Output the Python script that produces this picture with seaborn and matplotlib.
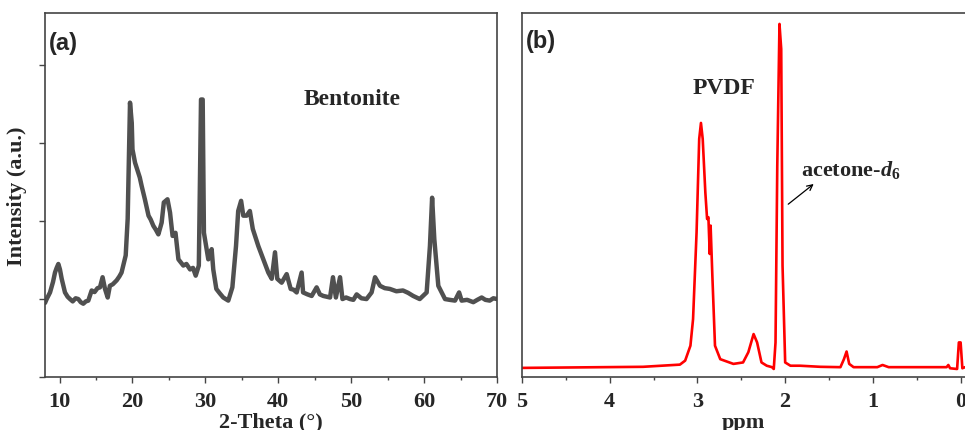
import matplotlib
matplotlib.use("Agg")
import matplotlib.pyplot as plt
import seaborn as sns
import pandas as pd
from matplotlib.ticker import MultipleLocator

# ---- Panel (a): XRD of bentonite ----
xrd_two_theta = [8.0, 8.23, 8.69, 9.1, 9.37, 9.6, 9.83, 10.05, 10.29, 10.74, 11.1, 11.43, 11.8, 12.2, 12.57,
                 12.9, 13.25, 13.6, 13.94, 14.4, 14.8, 15.2, 15.54, 15.9, 16.23, 16.6, 16.9, 17.3, 17.83,
                 18.2, 18.5, 19.07, 19.34, 19.5, 19.66, 19.9, 20.0, 20.35, 20.8, 21.0, 21.26, 21.7, 22.2,
                 22.5, 22.86, 23.2, 23.55, 24.0, 24.3, 24.8, 25.15, 25.5, 25.9, 26.3, 26.97, 27.4, 27.9,
                 28.3, 28.67, 29.1, 29.4, 29.63, 29.8, 30.4, 30.86, 31.08, 31.5, 32.0, 32.45, 33.14, 33.7,
                 34.2, 34.5, 34.9, 35.2, 35.66, 36.1, 36.5, 37.26, 37.95, 38.63, 39.1, 39.55, 39.86, 40.46,
                 41.15, 41.7, 42.1, 42.52, 43.2, 43.4, 44.0, 44.58, 45.26, 45.7, 46.17, 47.1, 47.5, 47.9,
                 48.47, 48.8, 49.3, 49.84, 50.3, 50.75, 51.4, 52.1, 52.8, 53.27, 53.95, 54.6, 55.3, 56.2,
                 57.1, 57.8, 58.5, 59.4, 60.35, 60.8, 61.1, 61.4, 61.95, 62.87, 63.5, 64.24, 64.8, 65.15,
                 65.9, 66.75, 67.3, 67.9, 68.4, 69.0, 69.5, 70.0]
xrd_intensity = [0.95, 1.00, 1.085, 1.22, 1.34, 1.40, 1.45, 1.38, 1.26, 1.085, 1.03, 1.00, 0.97, 1.01, 1.00,
                 0.96, 0.94, 0.97, 0.98, 1.11, 1.09, 1.14, 1.15, 1.28, 1.13, 1.02, 1.17, 1.19, 1.24,
                 1.29, 1.34, 1.56, 2.03, 2.80, 3.52, 3.26, 2.92, 2.75, 2.62, 2.56, 2.45, 2.28, 2.07,
                 2.02, 1.94, 1.89, 1.83, 1.98, 2.24, 2.28, 2.11, 1.81, 1.85, 1.51, 1.43, 1.45, 1.38,
                 1.40, 1.30, 1.43, 3.56, 3.56, 1.85, 1.51, 1.64, 1.38, 1.13, 1.07, 1.02, 0.98, 1.15,
                 1.68, 2.13, 2.26, 2.07, 2.07, 2.13, 1.90, 1.68, 1.51, 1.34, 1.26, 1.60, 1.26, 1.21,
                 1.32, 1.13, 1.12, 1.085, 1.34, 1.085, 1.06, 1.04, 1.15, 1.06, 1.04, 1.02, 1.28, 1.02,
                 1.28, 1.00, 1.02, 1.00, 0.99, 1.06, 1.01, 1.00, 1.085, 1.28, 1.17, 1.14, 1.13, 1.10,
                 1.11, 1.08, 1.04, 1.00, 1.085, 1.68, 2.30, 1.77, 1.17, 1.00, 0.99, 0.98, 1.085, 0.98,
                 0.99, 0.96, 0.99, 1.02, 0.99, 0.98, 1.01, 1.00]
xrd_xticks = [10, 20, 30, 40, 50, 60, 70]

# ---- Panel (b): 1H NMR of PVDF ----
nmr_ppm = [5.0, 3.62, 3.2, 3.14, 3.08, 3.05, 3.01, 2.98, 2.96, 2.94, 2.91, 2.89, 2.875, 2.86, 2.85, 2.83,
           2.80, 2.74, 2.59, 2.48, 2.42, 2.36, 2.32, 2.27, 2.21, 2.15, 2.13, 2.11, 2.09, 2.065, 2.045, 2.03,
           2.0, 1.94, 1.83, 1.60, 1.37, 1.33, 1.30, 1.27, 1.22, 0.95, 0.89, 0.82, 0.16, 0.14, 0.12, 0.04,
           0.02, 0.0, -0.02, -0.05]
nmr_intensity = [0.025, 0.028, 0.034, 0.045, 0.086, 0.159, 0.397, 0.654, 0.698, 0.654, 0.507, 0.434,
                 0.439, 0.338, 0.416, 0.278, 0.086, 0.049, 0.036, 0.040, 0.068, 0.118, 0.095, 0.040,
                 0.031, 0.027, 0.022, 0.095, 0.580, 0.970, 0.901, 0.306, 0.040, 0.031, 0.031, 0.028,
                 0.027, 0.049, 0.070, 0.036, 0.027, 0.027, 0.033, 0.027, 0.027, 0.033, 0.024, 0.022,
                 0.095, 0.095, 0.024, 0.027]
nmr_xticks = [5, 4, 3, 2, 1, 0]

df_a = pd.DataFrame({"two_theta": xrd_two_theta, "intensity": xrd_intensity})
df_b = pd.DataFrame({"ppm": nmr_ppm, "intensity": nmr_intensity})

sns.set_style("ticks")
plt.rcParams["font.family"] = ["Liberation Serif", "DejaVu Serif"]
plt.rcParams["mathtext.fontset"] = "custom"
plt.rcParams["mathtext.rm"] = "Liberation Serif:bold"
plt.rcParams["mathtext.it"] = "Liberation Serif:italic:bold"
plt.rcParams["mathtext.bf"] = "Liberation Serif:bold"

fig = plt.figure(figsize=(9.65, 4.31), dpi=100)
ax1 = fig.add_axes([45 / 965, 1 - 378 / 431, 452 / 965, 364 / 431])
ax2 = fig.add_axes([522 / 965, 1 - 378 / 431, 443 / 965, 364 / 431])

frame = "#444444"
serif_bold = dict(family=["Liberation Serif", "DejaVu Serif"], weight="bold")

# Panel (a)
sns.lineplot(data=df_a, x="two_theta", y="intensity", ax=ax1, color="#505050", lw=3.2, sort=False)
ax1.set_xlim(8, 70)
ax1.set_ylim(0, 4.67)
ax1.set_xticks(xrd_xticks)
ax1.xaxis.set_minor_locator(MultipleLocator(5))
ax1.set_yticks([0, 1, 2, 3, 4])
ax1.set_yticklabels([])
ax1.set_xticklabels([str(t) for t in xrd_xticks], fontsize=16, **serif_bold)
ax1.set_xlabel("2-Theta (°)", fontsize=16, labelpad=0.5, **serif_bold)
ax1.set_ylabel("Intensity (a.u.)", fontsize=16, labelpad=3, **serif_bold)
ax1.text(0.008, 0.92, "(a)", transform=ax1.transAxes, fontsize=17, weight="bold",
         family=["Liberation Sans", "DejaVu Sans"], ha="left", va="center")
ax1.text(0.572, 0.765, "Bentonite", transform=ax1.transAxes, fontsize=17, ha="left", va="center", **serif_bold)
for s in ax1.spines.values():
    s.set_color(frame)
    s.set_linewidth(1.2)
ax1.tick_params(axis="both", which="major", direction="out", length=4, width=1.0, color=frame, pad=6)
ax1.tick_params(axis="x", which="minor", direction="out", length=2.5, width=1.0, color=frame)

# Panel (b)
sns.lineplot(data=df_b, x="ppm", y="intensity", ax=ax2, color="#ff0000", lw=1.9, sort=False)
ax2.set_xlim(5, -0.05)
ax2.set_ylim(0, 1)
ax2.set_xticks(nmr_xticks)
ax2.xaxis.set_minor_locator(MultipleLocator(0.5))
ax2.set_yticks([])
ax2.set_xticklabels([str(t) for t in nmr_xticks], fontsize=16, **serif_bold)
ax2.set_xlabel("ppm", fontsize=16, labelpad=0.5, **serif_bold)
ax2.set_ylabel("")
ax2.spines["right"].set_visible(False)
for s in ax2.spines.values():
    s.set_color(frame)
    s.set_linewidth(1.2)
ax2.tick_params(axis="x", which="major", direction="out", length=4, width=1.0, color=frame, pad=6)
ax2.tick_params(axis="x", which="minor", direction="out", length=2.5, width=1.0, color=frame)
ax2.text(0.008, 0.925, "(b)", transform=ax2.transAxes, fontsize=17, weight="bold",
         family=["Liberation Sans", "DejaVu Sans"], ha="left", va="center")
ax2.text(2.70, 0.795, "PVDF", fontsize=17, ha="center", va="center", **serif_bold)
ax2.annotate("", xy=(1.65, 0.535), xytext=(1.99, 0.47),
             arrowprops=dict(arrowstyle="->", color="black", lw=0.9))
ax2.text(1.82, 0.54, r"acetone-$\mathit{d}_{\mathrm{6}}$", fontsize=16, ha="left", va="bottom",
         **serif_bold)

fig.savefig("out.png", dpi=100)
